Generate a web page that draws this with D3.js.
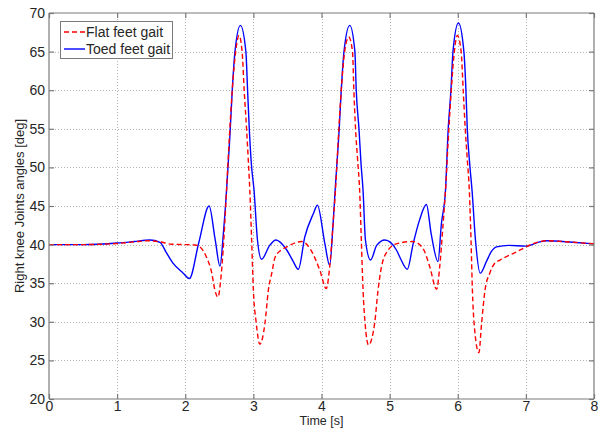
<!DOCTYPE html>
<html><head><meta charset="utf-8">
<script src="https://cdn.jsdelivr.net/npm/d3@7"></script>
<style>
html,body{margin:0;padding:0;background:#ffffff;}
svg{display:block;font-family:Arial,"Liberation Sans",sans-serif;}
</style></head>
<body>
<svg id="chart" width="602" height="429"></svg>
<script>
// ---- data ----
const xTicks = [0,1,2,3,4,5,6,7,8];
const yTicks = [20,25,30,35,40,45,50,55,60,65,70];
const seriesNames = ["Flat feet gait","Toed feet gait"];

const flatT = [0,0.5,1.0,1.25,1.45,1.63,1.8,2.0,2.14,2.215,2.31,2.39,2.435,2.48,2.53,2.58,2.606,2.645,2.69,2.74,2.79,2.835,2.865,2.90,2.925,2.948,2.975,3.0,3.04,3.095,3.17,3.22,3.27,3.32,3.41,3.49,3.71,3.83,3.975,4.07,4.12,4.17,4.205,4.245,4.29,4.34,4.40,4.455,4.475,4.50,4.53,4.56,4.585,4.61,4.64,4.69,4.78,4.83,4.88,4.98,5.1,5.34,5.49,5.59,5.69,5.735,5.785,5.82,5.86,5.905,5.95,5.995,6.05,6.08,6.11,6.14,6.17,6.195,6.215,6.24,6.31,6.35,6.4,6.47,6.54,6.62,6.86,7.0,7.1,7.3,7.69,8.0];
const flatV = [40,40,40.15,40.35,40.5,40.35,40.05,40.0,39.95,39.7,38.4,36.3,34.1,33.2,36.3,42.7,47,53.5,60,65,67.1,65,60,55,51,47,40.5,34.1,30,27.1,29.8,34.1,36.3,38.4,39.3,39.7,40.4,39.5,36.7,34.3,37.1,42.7,47,53.5,60,65,66.9,65,60,55,51,47,40.5,34.1,29.8,27.0,29.8,34.1,37.1,39.3,40.1,40.4,39.5,37.1,34.2,37.1,42.7,47,53.5,60,65,67.1,65,60,55,51,47,40.5,34.1,29.8,26.0,29.8,34.1,36.3,37.55,38.0,39.05,39.7,40.1,40.5,40.3,40.1];

const toedT = [0,0.5,1.0,1.25,1.48,1.63,1.72,1.82,1.97,2.06,2.2,2.35,2.44,2.51,2.56,2.606,2.655,2.69,2.73,2.81,2.89,2.915,2.94,2.97,3.01,3.06,3.12,3.24,3.33,3.49,3.58,3.66,3.755,3.88,3.94,4.05,4.12,4.17,4.2,4.26,4.29,4.33,4.415,4.49,4.51,4.55,4.58,4.61,4.645,4.72,4.81,4.93,5.10,5.17,5.26,5.345,5.44,5.54,5.61,5.71,5.76,5.82,5.86,5.90,5.93,6.01,6.09,6.12,6.14,6.175,6.21,6.26,6.33,6.42,6.49,6.57,6.75,7.0,7.2,7.3,7.69,8.0];
const toedV = [40,40,40.2,40.4,40.6,40.3,39.0,37.6,36.3,35.6,40.3,45.0,40.6,37.2,41.5,47,54,60,65,68.4,65,60,55,50.5,47,40.6,38.1,39.9,40.6,39.3,37.9,36.8,41.0,44.0,45.1,40.1,37.3,42.7,47,55,60,65,68.4,65,60,55,50.5,47,40.6,38.0,39.9,40.6,39.3,38.0,36.8,40.1,43.2,45.2,41.4,37.8,42.7,47,55,60,65,68.7,65,60,55,50.5,47,40.6,36.3,37.8,39.05,39.7,39.9,39.8,40.35,40.5,40.3,40.1];

// ---- layout ----
const svg = d3.select("#chart");
const L = 49, R = 594, T = 13, B = 399;
const x = d3.scaleLinear().domain([0,8]).range([L,R]);
const y = d3.scaleLinear().domain([20,70]).range([B,T]);
const axisCol = "#7a7a7a", textCol = "#262626";

svg.append("rect").attr("x",0).attr("y",0).attr("width",602).attr("height",429).attr("fill","#ffffff");
svg.append("rect").attr("x",L).attr("y",T).attr("width",R-L).attr("height",B-T).attr("fill","#ffffff");

// grid
const grid = svg.append("g");
grid.selectAll(".gx").data(xTicks.slice(1,-1)).join("line")
  .attr("x1",d=>Math.round(x(d))+0.5).attr("x2",d=>Math.round(x(d))+0.5)
  .attr("y1",T).attr("y2",B)
  .attr("stroke","#b4b4b4").attr("stroke-width",1).attr("stroke-dasharray","1,2");
grid.selectAll(".gy").data(yTicks.slice(1,-1)).join("line")
  .attr("y1",d=>Math.round(y(d))+0.5).attr("y2",d=>Math.round(y(d))+0.5)
  .attr("x1",L).attr("x2",R)
  .attr("stroke","#b4b4b4").attr("stroke-width",1).attr("stroke-dasharray","1,2");

// curves
const line = d3.line().x(d=>x(d[0])).y(d=>y(d[1])).curve(d3.curveMonotoneX);
const flat = flatT.map((t,i)=>[t,flatV[i]]);
const toed = toedT.map((t,i)=>[t,toedV[i]]);
svg.append("clipPath").attr("id","pc").append("rect").attr("x",L).attr("y",T).attr("width",R-L).attr("height",B-T);
svg.append("path").datum(toed).attr("d",line).attr("fill","none")
  .attr("stroke","#0000ff").attr("stroke-width",1.4).attr("clip-path","url(#pc)");
svg.append("path").datum(flat).attr("d",line).attr("fill","none")
  .attr("stroke","#ff0000").attr("stroke-width",1.4).attr("stroke-dasharray","5,3").attr("clip-path","url(#pc)");

// axes (MATLAB style: ticks inside on all sides)
const fmt = d3.format("d");
const axB = d3.axisBottom(x).tickValues(xTicks).tickSize(-5).tickPadding(2).tickFormat(fmt);
const axT = d3.axisTop(x).tickValues(xTicks).tickSize(-5).tickFormat("");
const axL = d3.axisLeft(y).tickValues(yTicks).tickSize(-5).tickPadding(4).tickFormat(fmt);
const axR = d3.axisRight(y).tickValues(yTicks).tickSize(-5).tickFormat("");
function style(g){
  g.select(".domain").attr("stroke",axisCol).attr("stroke-width",1.2);
  g.selectAll(".tick line").attr("stroke",axisCol).attr("stroke-width",1.2);
  g.selectAll(".tick text").attr("fill",textCol).attr("font-size",14).attr("font-family","Arial, 'Liberation Sans', sans-serif");
}
svg.append("g").attr("transform",`translate(0,${B})`).call(axB).call(style)
  .call(g=>g.select(".domain").attr("d",`M${L},0H${R}`));
svg.append("g").attr("transform",`translate(0,${T})`).call(axT).call(style)
  .call(g=>g.select(".domain").attr("d",`M${L},0H${R}`));
svg.append("g").attr("transform",`translate(${L},0)`).call(axL).call(style)
  .call(g=>g.select(".domain").attr("d",`M0,${T}V${B}`));
svg.append("g").attr("transform",`translate(${R},0)`).call(axR).call(style)
  .call(g=>g.select(".domain").attr("d",`M0,${T}V${B}`));

// axis labels
svg.append("text").attr("x",(L+R)/2).attr("y",425).attr("text-anchor","middle")
  .attr("fill",textCol).attr("font-size",12.5).text("Time [s]");
svg.append("text").attr("transform",`translate(24,${(T+B)/2}) rotate(-90)`).attr("text-anchor","middle")
  .attr("fill",textCol).attr("font-size",13).text("Right knee Joints angles [deg]");

// legend
const lg = svg.append("g");
lg.append("rect").attr("x",60.5).attr("y",21.5).attr("width",112).attr("height",37)
  .attr("fill","#ffffff").attr("stroke",axisCol).attr("stroke-width",1);
const legY = [32,49];
const legCol = ["#ff0000","#0000ff"];
const legDash = ["5,3",null];
seriesNames.forEach((n,i)=>{
  lg.append("line").attr("x1",64).attr("x2",85).attr("y1",legY[i]).attr("y2",legY[i])
    .attr("stroke",legCol[i]).attr("stroke-width",1.4).attr("stroke-dasharray",legDash[i]);
  lg.append("text").attr("x",86).attr("y",legY[i]+5).attr("fill",textCol)
    .attr("font-size",14).text(n);
});
</script>
</body></html>
